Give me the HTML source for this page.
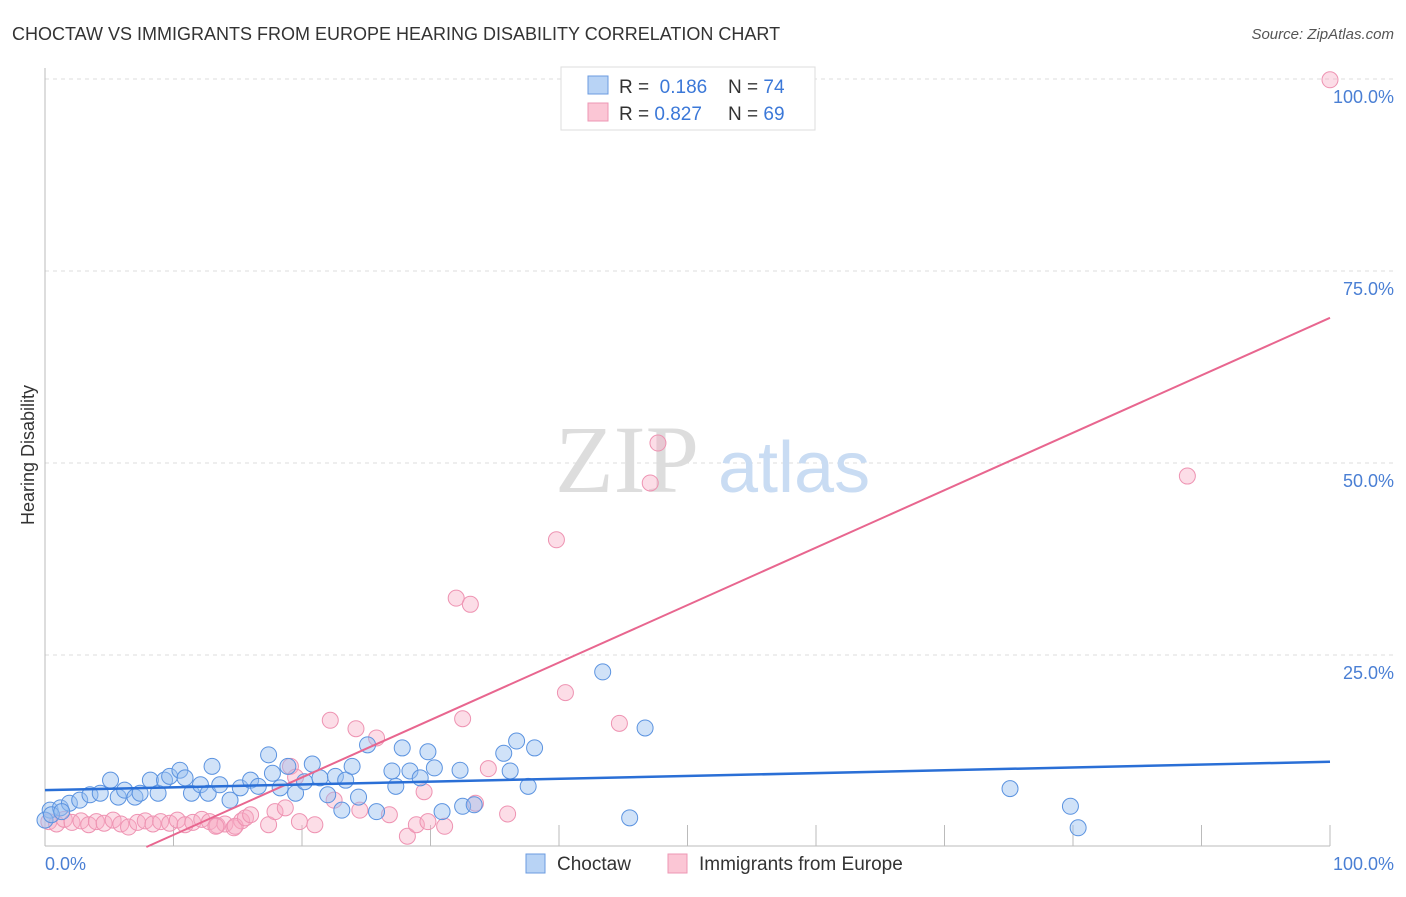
<!DOCTYPE html>
<html><head><meta charset="utf-8"><style>
body{margin:0;background:#fff;font-family:"Liberation Sans",sans-serif}
</style></head><body>
<svg width="1406" height="892" xmlns="http://www.w3.org/2000/svg" font-family="Liberation Sans, sans-serif">
<text x="12" y="40" font-size="18" fill="#333">CHOCTAW VS IMMIGRANTS FROM EUROPE HEARING DISABILITY CORRELATION CHART</text>
<text x="1394" y="39" font-size="15" fill="#555" font-style="italic" text-anchor="end">Source: ZipAtlas.com</text>
<g id="grid"></g>
<text x="555" y="492" font-size="96" fill="#ddd" font-family="Liberation Serif, serif">ZIP</text>
<text x="718" y="492" font-size="72" fill="#c9dcf3">atlas</text>
<line x1="45" y1="68" x2="45" y2="846" stroke="#bbb"/>
<line x1="45" y1="846" x2="1330" y2="846" stroke="#bbb"/>
<text transform="translate(34,455) rotate(-90)" font-size="18" fill="#333" text-anchor="middle">Hearing Disability</text>
<text x="45" y="870" font-size="18" fill="#4a7fd4">0.0%</text>
<text x="1394" y="870" font-size="18" fill="#4a7fd4" text-anchor="end">100.0%</text>
<g id="marks"></g>
<g>
<rect x="561" y="67" width="254" height="63" fill="#fff" stroke="#ddd"/>
<rect x="588" y="76" width="20" height="18" fill="#b8d3f5" stroke="#6b9be0"/>
<rect x="588" y="103" width="20" height="18" fill="#fbc6d5" stroke="#ee97b4"/>
<text x="619" y="93" font-size="19" fill="#333">R = <tspan fill="#3b78d8">&#160;0.186</tspan><tspan x="728">N = </tspan><tspan fill="#3b78d8">74</tspan></text>
<text x="619" y="120" font-size="19" fill="#333">R = <tspan fill="#3b78d8">0.827</tspan><tspan x="728">N = </tspan><tspan fill="#3b78d8">69</tspan></text>
</g>
<g>
<rect x="526" y="854" width="19" height="19" fill="#b8d3f5" stroke="#6b9be0"/>
<text x="557" y="870" font-size="19" fill="#333">Choctaw</text>
<rect x="668" y="854" width="19" height="19" fill="#fbc6d5" stroke="#ee97b4"/>
<text x="699" y="870" font-size="19" fill="#333">Immigrants from Europe</text>
</g>
</svg>
<script>
const yTicks=[25,50,75,100];
const yTickLabels=["25.0%","50.0%","75.0%","100.0%"];
const blueX=[0.4,1.2,1.9,2.7,3.5,4.3,5.1,5.7,6.2,7.0,7.4,8.2,8.8,9.3,9.7,10.5,10.9,11.4,12.1,12.7,13.0,13.6,14.4,15.2,16.0,16.6,17.4,17.7,18.3,18.9,19.5,20.2,20.8,21.4,22.0,22.6,23.1,23.4,23.9,24.4,25.1,25.8,27.0,27.3,27.8,28.4,29.2,29.8,30.3,30.9,32.3,32.5,33.4,35.7,36.2,36.7,37.6,38.1,43.4,45.5,46.7,75.1,79.8,80.4,0,0.5,1.3];
const blueY=[4.8,5.1,5.7,6.1,6.8,7.0,8.7,6.5,7.4,6.5,7.0,8.7,7.0,8.7,9.2,10.0,9.0,7.0,8.1,7.0,10.5,8.1,6.1,7.7,8.7,7.9,12.0,9.6,7.7,10.5,7.0,8.5,10.8,9.0,6.8,9.2,4.8,8.7,10.5,6.5,13.3,4.6,9.9,7.9,12.9,9.9,9.0,12.4,10.3,4.6,10.0,5.3,5.5,12.2,9.9,13.8,7.9,12.9,22.8,3.8,15.5,7.6,5.3,2.5,3.5,4.2,4.6];
const pinkX=[0.3,0.9,1.5,2.1,2.8,3.4,4.0,4.6,5.3,5.9,6.5,7.2,7.8,8.4,9.0,9.7,10.3,10.9,11.5,12.2,12.8,13.4,14.0,14.7,15.3,13.3,14.8,15.6,17.4,19.8,21.0,22.2,24.2,25.8,22.5,24.5,26.8,28.2,28.9,29.5,29.8,31.1,32.0,32.5,33.1,33.5,34.5,36.0,39.8,40.5,44.7,47.1,47.7,88.9,100,19.1,19.5,16.0,17.9,18.7];
const pinkY=[3.3,3.0,3.6,3.2,3.4,2.9,3.3,3.1,3.5,3.0,2.6,3.2,3.4,3.0,3.3,3.1,3.5,2.9,3.2,3.6,3.3,2.8,3.0,2.5,3.4,2.7,2.7,3.8,2.9,3.3,2.9,16.5,15.4,14.2,6.1,4.8,4.2,1.4,2.9,7.2,3.3,2.7,32.4,16.7,31.6,5.7,10.2,4.3,40.0,20.1,16.1,47.4,52.6,48.3,99.9,10.5,9.1,4.2,4.6,5.1];
const blueFit=[7.4,11.1];
const pinkFit=[-5.9,68.9];
const X=v=>45+v*12.85, Y=v=>847-v*7.68;
const NS="http://www.w3.org/2000/svg";
const grid=document.getElementById('grid'), marks=document.getElementById('marks');
function mk(tag,attrs,parent){const e=document.createElementNS(NS,tag);for(const k in attrs)e.setAttribute(k,attrs[k]);parent.appendChild(e);return e;}
yTicks.forEach((t,i)=>{
 const l=mk('line',{x1:45,x2:1394,y1:Y(t),y2:Y(t),stroke:'#ddd','stroke-dasharray':'4,4'},grid);
 
 
 const tx=mk('text',{x:1394,y:Y(t)+24,'font-size':18,fill:'#4a7fd4','text-anchor':'end'},grid);
 tx.textContent=yTickLabels[i];
 
 
});
for(let i=1;i<=10;i++){
 const l=mk('line',{x1:X(i*10),x2:X(i*10),y1:825,y2:846,stroke:'#bbb'},grid);
 
 
}
pinkX.forEach((x,i)=>{
 const c=mk('circle',{cx:X(x),cy:Y(pinkY[i]),r:8,fill:'rgba(248,170,195,0.4)',stroke:'#ee93b2','stroke-width':1},marks);
 
 
});
blueX.forEach((x,i)=>{
 const c=mk('circle',{cx:X(x),cy:Y(blueY[i]),r:8,fill:'rgba(150,190,240,0.45)',stroke:'#5b93e0','stroke-width':1},marks);
 
 
});
const x0=-pinkFit[0]/((pinkFit[1]-pinkFit[0])/100);
const pl=mk('line',{x1:X(x0),y1:Y(0),x2:X(100),y2:Y(pinkFit[1]),stroke:'#e8668f','stroke-width':2},marks);


const bl=mk('line',{x1:X(0),y1:Y(blueFit[0]),x2:X(100),y2:Y(blueFit[1]),stroke:'#2a6fd6','stroke-width':2.5},marks);


</script>
</body></html>
